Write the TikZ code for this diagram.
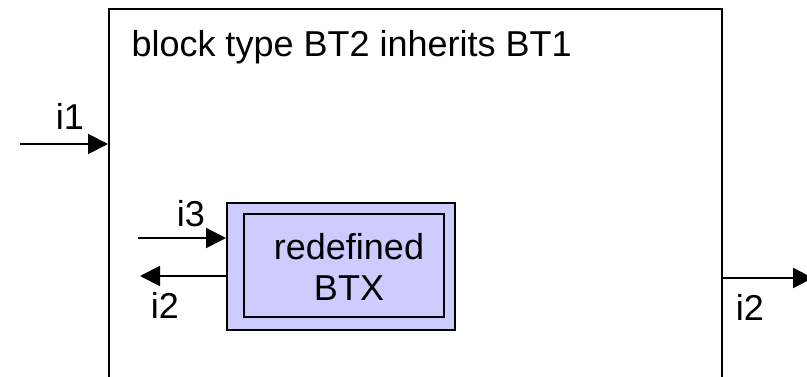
\documentclass[tikz,border=0pt]{standalone}
\usepackage{fontspec}
\setmainfont{Liberation Sans}
\usetikzlibrary{arrows.meta}
\definecolor{btxfill}{RGB}{204,204,255}
\tikzset{every picture/.style={line width=0.75pt}}
\tikzset{
  flow/.style={line width=1.5pt, -{Triangle[length=15pt,width=15pt]}},
  lbl/.style={inner sep=0.75pt, font=\fontsize{27}{31}\selectfont},
  btxbox/.style={draw, line width=1.5pt, fill=btxfill, inner sep=0pt},
}

\begin{document}
\begin{tikzpicture}[x=0.75pt,y=0.75pt,yscale=-1,xscale=1]
\clip (0,0) rectangle (807,377);

%Shape: Rectangle [id:bt2] 
\node (bt2) [draw, line width=1.5pt, anchor=north west, inner sep=0pt, minimum width=459.75pt, minimum height=330pt] at (108,8) {};
%Shape: Rectangle [id:btxouter] 
\node (btxo) [btxbox, minimum width=171pt, minimum height=95.25pt] at (341,266.5) {};
%Shape: Rectangle [id:btxinner] 
\node (btxi) [btxbox, minimum width=150pt, minimum height=77.25pt] at (344,265.5) {};

%Straight Lines [id:i1] 
\coordinate (i1src) at (20,144);
\draw [flow] (i1src) -- (i1src -| bt2.west);
%Straight Lines [id:i3] 
\coordinate (i3src) at (138,238);
\draw [flow] (i3src) -- (i3src -| btxo.west);
%Straight Lines [id:i2in] 
\coordinate (i2dst) at (140,276);
\draw [flow] (i2dst -| btxo.west) -- (i2dst);
%Straight Lines [id:i2out] 
\coordinate (i2out) at (813,278);
\draw [flow] (i2out -| bt2.east) -- (i2out);

% Text Node
\node (title) [lbl, anchor=base west] at (130,57) {block type BT2 inherits BT1};
% Text Node
\node (btxtext) [lbl, align=center] at (349,267) {redefined\\BTX};
% Text Node
\node (li1) [lbl] at (70,116) {i1};
% Text Node
\node (li3) [lbl] at (191,214) {i3};
% Text Node
\node (li2a) [lbl] at (165,305) {i2};
% Text Node
\node (li2b) [lbl] at (750,307) {i2};

\end{tikzpicture}
\end{document}
